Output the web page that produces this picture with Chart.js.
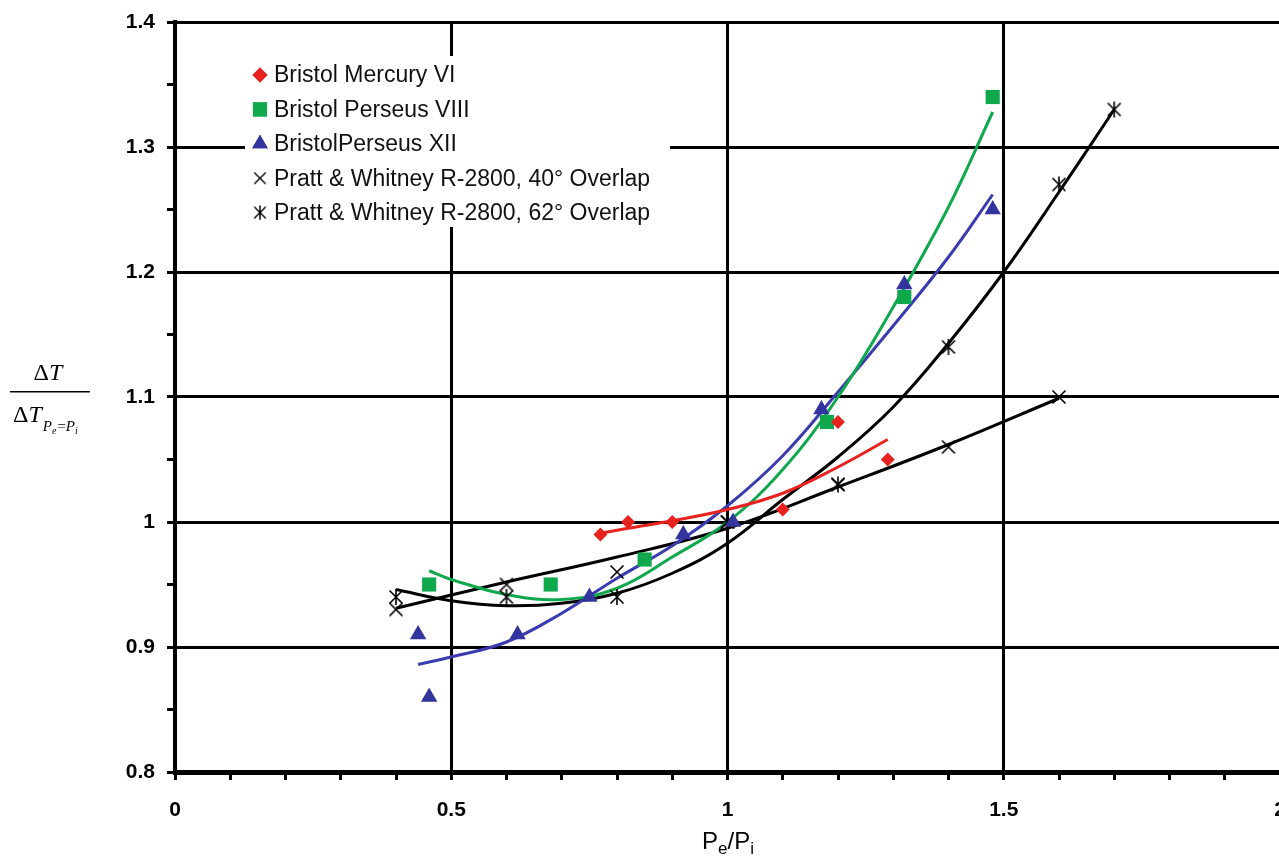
<!DOCTYPE html>
<html><head><meta charset="utf-8">
<script src="https://cdn.jsdelivr.net/npm/chart.js@4.4.1/dist/chart.umd.min.js"></script>
<style>html,body{margin:0;padding:0;background:#fff;overflow:hidden;width:1279px;height:863px}canvas{display:block}</style>
</head><body><canvas id="c" width="1284" height="863"></canvas>
<script>
// ---- data ----
const legendLabels = ['Bristol Mercury VI', 'Bristol Perseus VIII', 'BristolPerseus XII',
  'Pratt & Whitney R-2800, 40\u00B0 Overlap', 'Pratt & Whitney R-2800, 62\u00B0 Overlap'];
const xTickLabels = ['0', '0.5', '1', '1.5', '2'];
const yTickLabels = ['0.8', '0.9', '1', '1.1', '1.2', '1.3', '1.4'];

const mercuryX = [0.77, 0.82, 0.90, 1.10, 1.20, 1.29];
const mercuryY = [0.99, 1.00, 1.00, 1.01, 1.08, 1.05];
const mercuryFitX = [0.77, 0.82, 0.90, 1.00, 1.10, 1.20, 1.29];
const mercuryFitY = [0.991, 0.995, 1.001, 1.010, 1.023, 1.044, 1.066];

const perseus8X = [0.46, 0.68, 0.85, 1.18, 1.32, 1.48];
const perseus8Y = [0.95, 0.95, 0.97, 1.08, 1.18, 1.34];
const perseus8FitX = [0.46, 0.50, 0.60, 0.70, 0.80, 0.90, 1.00, 1.10, 1.20, 1.30, 1.40, 1.48];
const perseus8FitY = [0.961, 0.954, 0.942, 0.938, 0.947, 0.972, 1.000, 1.042, 1.100, 1.172, 1.252, 1.328];

const perseus12X = [0.44, 0.46, 0.62, 0.75, 0.92, 1.01, 1.17, 1.32, 1.48];
const perseus12Y = [0.91, 0.86, 0.91, 0.94, 0.99, 1.00, 1.09, 1.19, 1.25];
const perseus12FitX = [0.44, 0.50, 0.60, 0.70, 0.80, 0.90, 1.00, 1.10, 1.20, 1.30, 1.40, 1.48];
const perseus12FitY = [0.886, 0.892, 0.904, 0.927, 0.955, 0.981, 1.013, 1.053, 1.104, 1.157, 1.212, 1.262];

const pw40X = [0.40, 0.60, 0.80, 1.00, 1.20, 1.40, 1.60];
const pw40Y = [0.93, 0.95, 0.96, 1.00, 1.03, 1.06, 1.10];
const pw40FitX = [0.40, 0.60, 0.80, 1.00, 1.20, 1.40, 1.60];
const pw40FitY = [0.931, 0.952, 0.972, 0.995, 1.028, 1.062, 1.099];

const pw62X = [0.40, 0.60, 0.80, 1.00, 1.20, 1.40, 1.60, 1.70];
const pw62Y = [0.94, 0.94, 0.94, 1.00, 1.03, 1.14, 1.27, 1.33];
const pw62FitX = [0.40, 0.50, 0.60, 0.70, 0.80, 0.90, 1.00, 1.10, 1.20, 1.30, 1.40, 1.50, 1.60, 1.70];
const pw62FitY = [0.946, 0.937, 0.933, 0.935, 0.943, 0.959, 0.983, 1.018, 1.052, 1.092, 1.143, 1.200, 1.264, 1.330];

// ---- styles ----
const RED = '#e8231f', GREEN = '#0fa84c', BLUE = '#34349e', BLUE_LINE = '#3b3bb0', BLACK = '#000';
const pts = (xs, ys) => xs.map((x, i) => ({x: x, y: ys[i]}));

function makeMarker(star) {
  const c = document.createElement('canvas');
  c.width = 18; c.height = 18;
  const g = c.getContext('2d');
  g.strokeStyle = '#000'; g.lineWidth = 1.6; g.lineCap = 'butt';
  g.beginPath();
  g.moveTo(2.5, 2.5); g.lineTo(15.5, 15.5);
  g.moveTo(15.5, 2.5); g.lineTo(2.5, 15.5);
  if (star) { g.moveTo(9, 1); g.lineTo(9, 17); }
  g.stroke();
  return c;
}
const crossImg = makeMarker(false);
const starImg = makeMarker(true);

function markerDs(label, data, style, color, radius, order) {
  return {label: label, data: data, showLine: false, pointStyle: style, pointRadius: radius,
    pointHoverRadius: radius, backgroundColor: color, borderColor: color, pointBorderWidth: 0, order: order};
}
function fitDs(data, color) {
  return {label: '', data: data, showLine: true, pointRadius: 0, borderColor: color,
    borderWidth: 3, tension: 0.4, fill: false, order: 10};
}

const datasets = [
  fitDs(pts(mercuryFitX, mercuryFitY), RED),
  fitDs(pts(perseus8FitX, perseus8FitY), GREEN),
  fitDs(pts(perseus12FitX, perseus12FitY), BLUE_LINE),
  fitDs(pts(pw40FitX, pw40FitY), BLACK),
  fitDs(pts(pw62FitX, pw62FitY), BLACK),
  markerDs(legendLabels[0], pts(mercuryX, mercuryY), 'rectRot', RED, 7, 1),
  markerDs(legendLabels[1], pts(perseus8X, perseus8Y), 'rect', GREEN, 10, 2),
  markerDs(legendLabels[2], pts(perseus12X, perseus12Y), 'triangle', BLUE, 9.5, 3),
  markerDs(legendLabels[3], pts(pw40X, pw40Y), crossImg, BLACK, 9, 4),
  markerDs(legendLabels[4], pts(pw62X, pw62Y), starImg, BLACK, 9, 5)
];

const isMajor = (v, step) => Math.abs(Math.round(v * 100) % step) === 0;

const decorPlugin = {
  id: 'decor',
  afterDatasetsDraw(chart) {
    const ctx = chart.ctx, a = chart.chartArea;
    // legend box (white, no border) inside the plot
    const bx = a.left + 70, by = a.top + 34, bw = 425, bh = 171;
    ctx.save();
    ctx.fillStyle = '#fff';
    ctx.fillRect(bx, by, bw, bh);
    const rowH = 34.4, mx = bx + 15, tx = bx + 29;
    const ms = chart.data.datasets.slice(5);
    ctx.font = '23px "Liberation Sans", Arial, sans-serif';
    ctx.textBaseline = 'middle';
    ms.forEach((d, i) => {
      const cy = by + 19 + i * rowH;
      if (d.pointStyle instanceof HTMLCanvasElement) {
        ctx.drawImage(d.pointStyle, mx - 8, cy - 8, 16, 16);
      } else {
        ctx.fillStyle = d.backgroundColor;
        Chart.helpers.drawPoint(ctx, {pointStyle: d.pointStyle, radius: d.pointStyle === 'rect' ? 10 : (d.pointStyle === 'triangle' ? 9 : 7.5), borderWidth: 0, rotation: 0}, mx, cy);
        ctx.fill();
      }
      ctx.fillStyle = '#111';
      ctx.fillText(d.label, tx, cy + 1);
    });
    ctx.restore();
  },
  afterDraw(chart) {
    const ctx = chart.ctx;
    ctx.save();
    ctx.fillStyle = '#000';
    // x-axis title  Pe/Pi
    const base = 849;
    const big = '24px "Liberation Sans", Arial, sans-serif';
    const small = '17px "Liberation Sans", Arial, sans-serif';
    const parts = [['P', big, 0], ['e', small, 5], ['/P', big, 0], ['i', small, 5]];
    let w = 0;
    parts.forEach(p => { ctx.font = p[1]; w += ctx.measureText(p[0]).width; });
    let x = 728 - w / 2;
    ctx.textBaseline = 'alphabetic';
    parts.forEach(p => { ctx.font = p[1]; ctx.fillText(p[0], x, base + p[2]); x += ctx.measureText(p[0]).width; });

    // y-axis title: ΔT / ΔT_{Pe=Pi}
    const serif = '"Liberation Serif", "Times New Roman", serif';
    const up = '24px ' + serif, it = 'italic 24px ' + serif;
    ctx.font = up; const dW = ctx.measureText('\u0394').width;
    ctx.font = it; const tW = ctx.measureText('T').width;
    let nx = 48 - (dW + tW) / 2;
    ctx.font = up; ctx.fillText('\u0394', nx, 380);
    ctx.font = it; ctx.fillText('T', nx + dW, 380);
    // fraction bar
    ctx.fillRect(10, 391, 80, 1.5);
    // denominator
    let dx = 13;
    ctx.font = up; ctx.fillText('\u0394', dx, 422); dx += dW;
    ctx.font = it; ctx.fillText('T', dx, 422); dx += tW + 1;
    const sub = 'italic 15px ' + serif, sub2 = 'italic 10px ' + serif, subUp = '15px ' + serif;
    ctx.font = sub; ctx.fillText('P', dx, 431); dx += ctx.measureText('P').width;
    ctx.font = sub2; ctx.fillText('e', dx, 434); dx += ctx.measureText('e').width + 1;
    ctx.font = subUp; ctx.fillText('=', dx, 431); dx += ctx.measureText('=').width;
    ctx.font = sub; ctx.fillText('P', dx, 431); dx += ctx.measureText('P').width;
    ctx.font = sub2; ctx.fillText('i', dx, 434);
    ctx.restore();
  }
};

new Chart(document.getElementById('c'), {
  type: 'scatter',
  data: {datasets: datasets},
  plugins: [decorPlugin],
  options: {
    responsive: false,
    animation: false,
    devicePixelRatio: 1,
    layout: {padding: {left: 0, top: 22, right: 4, bottom: 0}, autoPadding: false},
    plugins: {legend: {display: false}, tooltip: {enabled: false}},
    scales: {
      x: {
        type: 'linear', min: 0, max: 2,
        afterFit: s => { s.height = 91; s.paddingLeft = 0; s.paddingRight = 0; },
        ticks: {
          stepSize: 0.1, autoSkip: false, maxRotation: 0, padding: 18, color: '#000',
          font: {family: '"Liberation Sans", Arial, sans-serif', size: 21, weight: 'bold'},
          callback: v => { const k = Math.round(v * 10); return k % 5 === 0 ? xTickLabels[k / 5] : ''; }
        },
        grid: {
          color: c => (c.tick && isMajor(c.tick.value, 50)) ? '#000' : 'rgba(0,0,0,0)',
          lineWidth: 3, tickColor: '#000', tickWidth: 3, tickLength: 8, drawTicks: true
        },
        border: {display: true, color: '#000', width: 5}
      },
      y: {
        type: 'linear', min: 0.8, max: 1.4,
        afterFit: s => { s.width = 175; s.paddingTop = 0; s.paddingBottom = 0; },
        ticks: {
          stepSize: 0.05, autoSkip: false, padding: 12, color: '#000',
          font: {family: '"Liberation Sans", Arial, sans-serif', size: 21, weight: 'bold'},
          callback: v => { const k = Math.round(v * 100); return k % 10 === 0 ? yTickLabels[(k - 80) / 10] : ''; }
        },
        grid: {
          color: c => (c.tick && isMajor(c.tick.value, 10)) ? '#000' : 'rgba(0,0,0,0)',
          lineWidth: 3, tickColor: '#000', tickWidth: 3, tickLength: 8, drawTicks: true
        },
        border: {display: true, color: '#000', width: 4}
      }
    }
  }
});
</script>
</body></html>
